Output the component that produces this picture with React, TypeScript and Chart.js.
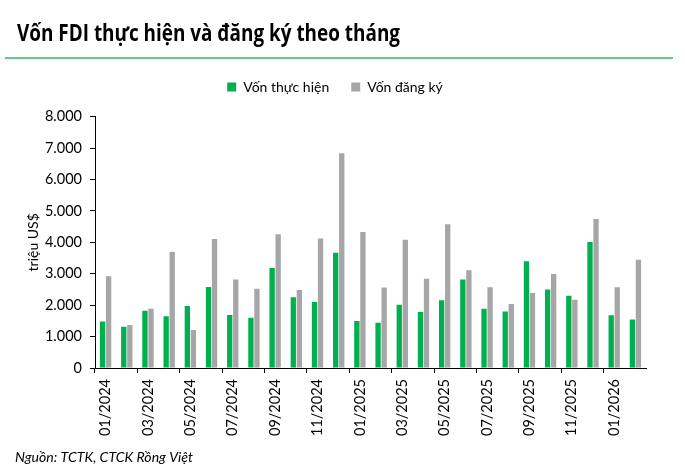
import React, { useEffect, useRef } from "react";
import { Chart, registerables } from "chart.js";

Chart.register(...registerables);

const months: string[] = [
  "01/2024", "02/2024", "03/2024", "04/2024", "05/2024", "06/2024",
  "07/2024", "08/2024", "09/2024", "10/2024", "11/2024", "12/2024",
  "01/2025", "02/2025", "03/2025", "04/2025", "05/2025", "06/2025",
  "07/2025", "08/2025", "09/2025", "10/2025", "11/2025", "12/2025",
  "01/2026", "02/2026",
];

const vonThucHien: number[] = [
  1480, 1310, 1820, 1650, 1970, 2580, 1690, 1600, 3180, 2250, 2100, 3670,
  1500, 1440, 2010, 1780, 2160, 2820, 1890, 1800, 3400, 2500, 2300, 4010,
  1680, 1540,
];

const vonDangKy: number[] = [
  2920, 1370, 1890, 3700, 1210, 4110, 2820, 2520, 4260, 2480, 4120, 6840,
  4330, 2560, 4080, 2840, 4580, 3110, 2570, 2040, 2390, 2990, 2170, 4740,
  2570, 3450,
];

const yTicks: number[] = [0, 1000, 2000, 3000, 4000, 5000, 6000, 7000, 8000];

const TITLE = "Vốn FDI thực hiện và đăng ký theo tháng";
const SOURCE = "Nguồn: TCTK, CTCK Rồng Việt";
const FONT = "Lato, 'Open Sans', 'Liberation Sans', sans-serif";

function fitText(ctx: CanvasRenderingContext2D, text: string, x: number, y: number, width: number) {
  const w = ctx.measureText(text).width;
  ctx.save();
  ctx.translate(x, y);
  ctx.scale(width / w, 1);
  ctx.fillText(text, 0, 0);
  ctx.restore();
}

const decorPlugin = {
  id: "decor",
  afterDraw(chart: any) {
    const ctx: CanvasRenderingContext2D = chart.ctx;
    ctx.save();
    ctx.fillStyle = "#000";
    ctx.textBaseline = "alphabetic";
    ctx.textAlign = "left";
    ctx.font = "bold 23.5px 'Open Sans', Lato, sans-serif";
    fitText(ctx, TITLE, 17, 40.5, 383);
    ctx.strokeStyle = "#2dbd5f";
    ctx.lineWidth = 1.5;
    ctx.beginPath();
    ctx.moveTo(5, 58);
    ctx.lineTo(673, 58);
    ctx.stroke();
    ctx.font = "italic 13px " + FONT;
    fitText(ctx, SOURCE, 15, 462, 178);
    ctx.restore();
  },
};

export default function App() {
  const ref = useRef<HTMLCanvasElement | null>(null);
  useEffect(() => {
    if (!ref.current) return;
    const chart = new Chart(ref.current, {
      type: "bar",
      data: {
        labels: months,
        datasets: [
          {
            label: "Vốn thực hiện",
            data: vonThucHien,
            backgroundColor: "#00b050",
            barPercentage: 0.88,
            categoryPercentage: 0.57,
          },
          {
            label: "Vốn đăng ký",
            data: vonDangKy,
            backgroundColor: "#a6a6a6",
            barPercentage: 0.88,
            categoryPercentage: 0.57,
          },
        ],
      },
      options: {
        responsive: false,
        animation: false,
        layout: { padding: { top: 58, bottom: 36, left: 24, right: 39 } },
        plugins: {
          legend: {
            display: true,
            position: "top",
            labels: {
              boxWidth: 9,
              boxHeight: 9,
              padding: 22,
              color: "#000",
              font: { family: FONT, size: 14 },
            },
          },
          subtitle: {
            display: true,
            text: " ",
            weight: 500,
            font: { size: 1 },
            padding: { top: 0, bottom: 11.5 },
          },
          tooltip: { enabled: false },
        },
        scales: {
          x: {
            grid: {
              display: true,
              drawOnChartArea: false,
              drawTicks: true,
              tickLength: 5,
              color: (c: any) => (c.index % 2 === 0 ? "#000" : "rgba(0,0,0,0)"),
            },
            border: { display: true, color: "#000", width: 1 },
            ticks: {
              autoSkip: false,
              maxRotation: 90,
              minRotation: 90,
              padding: 6,
              color: "#000",
              font: { family: FONT, size: 14.5 },
              callback: (_v: any, i: number) => (i % 2 === 0 ? months[i] : ""),
            },
            afterFit: (s: any) => {
              s.height = 70;
            },
          },
          y: {
            min: 0,
            max: 8000,
            afterBuildTicks: (s: any) => {
              s.ticks = yTicks.map((v) => ({ value: v }));
            },
            grid: {
              display: true,
              drawOnChartArea: false,
              drawTicks: true,
              tickLength: 5,
              color: "#000",
            },
            border: { display: true, color: "#000", width: 1 },
            ticks: {
              padding: 8,
              color: "#000",
              font: { family: FONT, size: 14.5 },
              callback: (v: any) => Number(v).toLocaleString("de-DE"),
            },
            title: {
              display: true,
              text: "triệu US$",
              color: "#000",
              font: { family: FONT, size: 14 },
              padding: { top: 1, bottom: 0 },
            },
            afterFit: (s: any) => {
              s.width = 71;
            },
          },
        },
      },
      plugins: [decorPlugin],
    });
    return () => chart.destroy();
  }, []);
  return (
    <div style={{ position: "fixed", left: 0, top: 0, width: 685, height: 474, background: "#fff" }}>
      <canvas ref={ref} width={685} height={474} />
    </div>
  );
}
